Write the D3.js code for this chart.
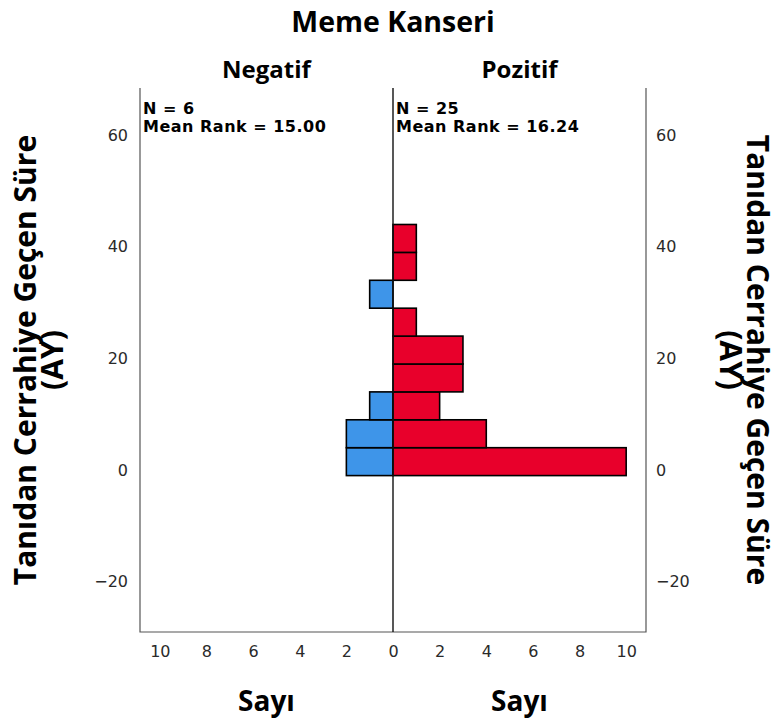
<!DOCTYPE html>
<html>
<head>
<meta charset="utf-8">
<script src="https://cdn.jsdelivr.net/npm/d3@7"></script>
<style>
  html, body { margin: 0; padding: 0; background: #fff; }
  svg { display: block; }
  .title { font-family: "Open Sans", sans-serif; font-weight: bold; fill: #000; }
  .tick-label { font-family: "DejaVu Sans", sans-serif; font-size: 16px; fill: #2a2a2a; }
  .stat { font-family: "DejaVu Sans", sans-serif; font-weight: bold; font-size: 16px; letter-spacing: 0.5px; fill: #000; }
</style>
</head>
<body>
<svg id="chart" width="781" height="724"></svg>
<script>
// Histogram bins of "Tanıdan Cerrahiye Geçen Süre (AY)", bottom to top
const binLow  = [-1, 4, 9, 14, 19, 24, 29, 34, 39];
const binHigh = [ 4, 9, 14, 19, 24, 29, 34, 39, 44];

// Frequencies per bin for each group of "Meme Kanseri"
const negatifCounts = [2, 2, 1, 0, 0, 0, 1, 0, 0];
const pozitifCounts = [10, 4, 2, 3, 3, 1, 0, 1, 1];

const groupNames = ["Negatif", "Pozitif"];
const groupN = ["N = 6", "N = 25"];
const groupMeanRank = ["Mean Rank = 15.00", "Mean Rank = 16.24"];

const yTicks = [-20, 0, 20, 40, 60];
const xTicks = [0, 2, 4, 6, 8, 10];

const chartTitle = "Meme Kanseri";
const yTitle = ["Tanıdan Cerrahiye Geçen Süre", "(AY)"];
const xTitle = "Sayı";

const colors = { Negatif: "#3e95e9", Pozitif: "#e8002b" };

const svg = d3.select("#chart");

const plotLeft = 140, plotCenter = 393, plotRight = 646, plotTop = 88, plotBottom = 632;

const y = d3.scaleLinear().domain([-29.03, 68.46]).range([plotBottom, plotTop]);
const xNeg = d3.scaleLinear().domain([0, 10.85]).range([plotCenter, plotLeft]);
const xPos = d3.scaleLinear().domain([0, 10.85]).range([plotCenter, plotRight]);

// Bars
const bins = binLow.map((lo, i) => ({ lo, hi: binHigh[i], neg: negatifCounts[i], pos: pozitifCounts[i] }));

svg.append("g").selectAll("rect")
  .data(bins.filter(d => d.neg > 0))
  .join("rect")
  .attr("x", d => xNeg(d.neg))
  .attr("y", d => y(d.hi))
  .attr("width", d => xNeg(0) - xNeg(d.neg))
  .attr("height", d => y(d.lo) - y(d.hi))
  .attr("fill", colors.Negatif)
  .attr("stroke", "#000")
  .attr("stroke-width", 1.6);

svg.append("g").selectAll("rect")
  .data(bins.filter(d => d.pos > 0))
  .join("rect")
  .attr("x", xPos(0))
  .attr("y", d => y(d.hi))
  .attr("width", d => xPos(d.pos) - xPos(0))
  .attr("height", d => y(d.lo) - y(d.hi))
  .attr("fill", colors.Pozitif)
  .attr("stroke", "#000")
  .attr("stroke-width", 1.6);

// Frame: left, right, bottom, and the divider between the panels
const frame = svg.append("g").attr("fill", "none");
frame.append("path")
  .attr("d", `M${plotLeft},${plotTop}V${plotBottom}H${plotRight}V${plotTop}`)
  .attr("stroke", "#555").attr("stroke-width", 1.2);
frame.append("line")
  .attr("x1", plotCenter).attr("x2", plotCenter).attr("y1", plotTop).attr("y2", plotBottom)
  .attr("stroke", "#111").attr("stroke-width", 1.4);

// Y axes (labels only)
const yAxisL = d3.axisLeft(y).tickValues(yTicks).tickSize(0).tickPadding(12);
const yAxisR = d3.axisRight(y).tickValues(yTicks).tickSize(0).tickPadding(10);
const gyl = svg.append("g").attr("transform", `translate(${plotLeft},0)`).call(yAxisL);
const gyr = svg.append("g").attr("transform", `translate(${plotRight},0)`).call(yAxisR);
[gyl, gyr].forEach(g => {
  g.attr("font-size", null).attr("font-family", null);
  g.select(".domain").remove();
  g.selectAll("text").attr("class", "tick-label").attr("fill", null);
});

// X axes (labels only)
const xAxisL = d3.axisBottom(xNeg).tickValues(xTicks).tickSize(0).tickPadding(14);
const xAxisR = d3.axisBottom(xPos).tickValues(xTicks.slice(1)).tickSize(0).tickPadding(14);
const gxl = svg.append("g").attr("transform", `translate(0,${plotBottom})`).call(xAxisL);
const gxr = svg.append("g").attr("transform", `translate(0,${plotBottom})`).call(xAxisR);
[gxl, gxr].forEach(g => {
  g.attr("font-size", null).attr("font-family", null);
  g.select(".domain").remove();
  g.selectAll("text").attr("class", "tick-label").attr("fill", null);
});

// Titles
svg.append("text").attr("class", "title")
  .attr("x", plotCenter).attr("y", 31.5).attr("text-anchor", "middle")
  .attr("font-size", 28.5).text(chartTitle);

const panelCenters = [(plotLeft + plotCenter) / 2, (plotCenter + plotRight) / 2];
groupNames.forEach((g, i) => {
  svg.append("text").attr("class", "title")
    .attr("x", panelCenters[i]).attr("y", 78).attr("text-anchor", "middle")
    .attr("font-size", 24).text(g);
  svg.append("text").attr("class", "title")
    .attr("x", panelCenters[i]).attr("y", 711).attr("text-anchor", "middle")
    .attr("font-size", 28).text(xTitle);
  const x0 = (i === 0 ? plotLeft : plotCenter) + 3;
  svg.append("text").attr("class", "stat").attr("x", x0).attr("y", 114).text(groupN[i]);
  svg.append("text").attr("class", "stat").attr("x", x0).attr("y", 132).text(groupMeanRank[i]);
});

// Vertical axis titles
const midY = (plotTop + plotBottom) / 2;
const lt = svg.append("text").attr("class", "title")
  .attr("transform", `translate(0,${midY}) rotate(-90)`)
  .attr("text-anchor", "middle").attr("font-size", 30);
lt.append("tspan").attr("x", 0).attr("y", 36).text(yTitle[0]);
lt.append("tspan").attr("x", 0).attr("y", 63).text(yTitle[1]);

const rt = svg.append("text").attr("class", "title")
  .attr("transform", `translate(0,${midY}) rotate(90)`)
  .attr("text-anchor", "middle").attr("font-size", 30);
rt.append("tspan").attr("x", 0).attr("y", -747).text(yTitle[0]);
rt.append("tspan").attr("x", 0).attr("y", -720).text(yTitle[1]);
</script>
</body>
</html>
